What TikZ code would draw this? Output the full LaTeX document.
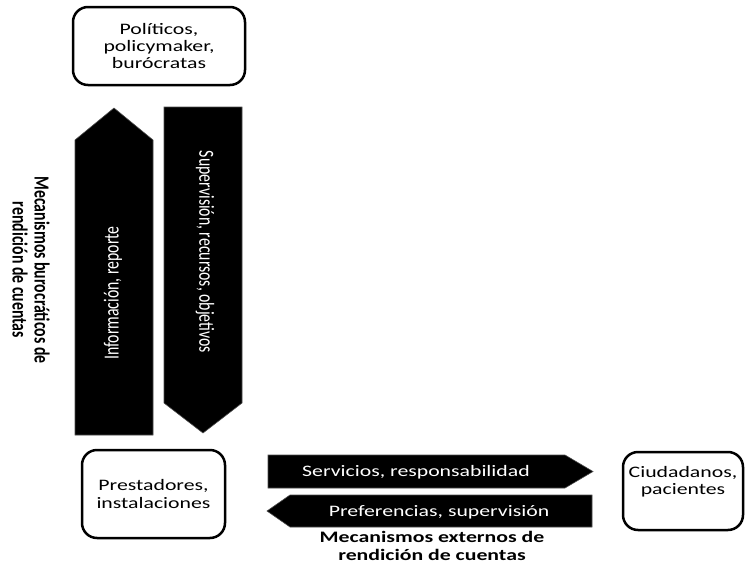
\documentclass[tikz,border=0pt]{standalone}
\usepackage{fontspec}
\setmainfont{Carlito}
\newfontfamily\hfont[FakeStretch=1.36]{Carlito}
\newfontfamily\vfont[FakeStretch=0.735]{Carlito}
\begin{document}
\begin{tikzpicture}[x=1pt,y=-1pt,
  box/.style={draw=black, line width=2.5pt, rounded corners=15pt, fill=white, align=center, inner sep=0pt,
    font=\hfont\fontsize{16}{17}\selectfont},
  blk/.style={fill=black, draw=black!70, line width=0.6pt},
  htxt/.style={text=white, inner sep=0pt, font=\hfont\fontsize{16}{18}\selectfont},
  vtxt/.style={text=white, inner sep=0pt, font=\vfont\fontsize{21.5}{22}\selectfont},
  lbl/.style={align=center, inner sep=0pt, font=\hfont\bfseries\fontsize{16}{18}\selectfont},
  vlbl/.style={align=center, inner sep=0pt, font=\vfont\bfseries\fontsize{21.5}{22}\selectfont}]
\useasboundingbox (0,0) rectangle (745,565);
% boxes
\node[box, minimum width=172pt, minimum height=78pt] (pol) at (159,46) {Políticos,\\policymaker,\\burócratas};
\node[box, minimum width=143pt, minimum height=88pt] (pre) at (153.5,494) {Prestadores,\\[1pt]instalaciones};
\node[box, minimum width=120pt, minimum height=78pt] (ciu) at (683,491) {Ciudadanos,\\pacientes\\[4pt]};
% block arrows
\draw[blk] (75,435) -- (75,140) -- (114,108) -- (153,140) -- (153,435) -- cycle;
\draw[blk] (164,107) -- (242,107) -- (242,403) -- (203,433) -- (164,403) -- cycle;
\draw[blk] (268,455) -- (565,455) -- (593,471.5) -- (565,488) -- (268,488) -- cycle;
\draw[blk] (592,495) -- (592,527) -- (290,527) -- (267,511) -- (290,495) -- cycle;
% arrow texts
\node[vtxt, rotate=90] (inf) at (113,293) {Información, reporte};
\node[vtxt, rotate=-90] (sup) at (205,252) {Supervisión, recursos, objetivos};
\node[htxt] (ser) at (416,472) {Servicios, responsabilidad};
\node[htxt] (prf) at (439,512) {Preferencias, supervisión};
% labels
\node[vlbl, rotate=-90] (mb) at (31,270) {Mecanismos burocráticos de\\rendición de cuentas};
\node[lbl] (me) at (432,546) {Mecanismos externos de\\rendición de cuentas};
\end{tikzpicture}
\end{document}
